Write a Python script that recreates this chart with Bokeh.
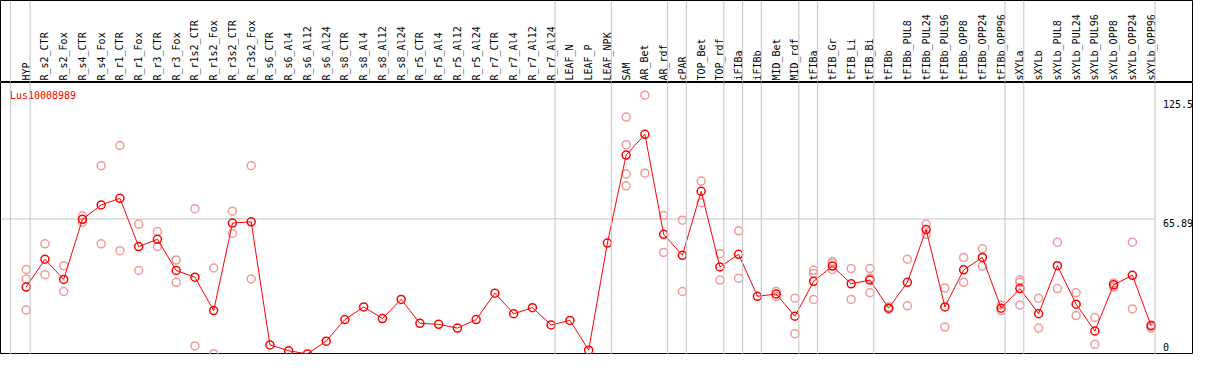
import math
from bokeh.plotting import figure
from bokeh.layouts import column
from bokeh.models import ColumnDataSource, Range1d, Span
from bokeh.embed import file_html
from bokeh.resources import INLINE
from bokeh.core.properties import value

gene = "Lus10008989"

categories = [
    "HYP", "R_s2_CTR", "R_s2_Fox", "R_s4_CTR", "R_s4_Fox", "R_r1_CTR", "R_r1_Fox",
    "R_r3_CTR", "R_r3_Fox", "R_r1s2_CTR", "R_r1s2_Fox", "R_r3s2_CTR", "R_r3s2_Fox",
    "R_s6_CTR", "R_s6_Al4", "R_s6_Al12", "R_s6_Al24", "R_s8_CTR", "R_s8_Al4",
    "R_s8_Al12", "R_s8_Al24", "R_r5_CTR", "R_r5_Al4", "R_r5_Al12", "R_r5_Al24",
    "R_r7_CTR", "R_r7_Al4", "R_r7_Al12", "R_r7_Al24", "LEAF_N", "LEAF_P", "LEAF_NPK",
    "SAM", "AR_Bet", "AR_rdf", "cPAR", "TOP_Bet", "TOP_rdf", "iFIBa", "iFIBb",
    "MID_Bet", "MID_rdf", "tFIBa", "tFIB_Gr", "tFIB_Li", "tFIB_Bi", "tFIBb",
    "tFIBb_PUL8", "tFIBb_PUL24", "tFIBb_PUL96", "tFIBb_OPP8", "tFIBb_OPP24",
    "tFIBb_OPP96", "sXYLa", "sXYLb", "sXYLb_PUL8", "sXYLb_PUL24", "sXYLb_PUL96",
    "sXYLb_OPP8", "sXYLb_OPP24", "sXYLb_OPP96",
]

means = [
    33.1, 46.5, 36.8, 65.7, 72.6, 75.8, 52.6, 56.1, 41.1, 37.9, 21.8, 63.9, 64.5,
    5.3, 2.5, 1.0, 7.1, 17.5, 23.6, 18.0, 27.2, 15.7, 15.2, 13.4, 17.5,
    30.2, 20.3, 23.2, 14.9, 17.1, 2.8, 54.3,
    96.6, 106.6, 58.5, 48.4, 79.2, 42.8, 48.9, 28.7, 29.8, 19.1,
    35.9, 43.2, 34.7, 36.5, 23.0, 35.4, 60.8, 23.6, 41.4, 47.4, 23.0,
    32.4, 20.3, 43.4, 24.9, 12.0, 34.2, 38.8, 14.5,
]

rep_categories = [
    "HYP", "HYP", "HYP", "R_s2_CTR", "R_s2_CTR", "R_s2_Fox", "R_s2_Fox",
    "R_s4_CTR", "R_s4_CTR", "R_s4_Fox", "R_s4_Fox", "R_r1_CTR", "R_r1_CTR",
    "R_r1_Fox", "R_r1_Fox", "R_r3_CTR", "R_r3_CTR", "R_r3_Fox", "R_r3_Fox",
    "R_r1s2_CTR", "R_r1s2_CTR", "R_r1s2_Fox", "R_r1s2_Fox", "R_r3s2_CTR", "R_r3s2_CTR",
    "R_r3s2_Fox", "R_r3s2_Fox",
    "SAM", "SAM", "SAM", "SAM", "AR_Bet", "AR_Bet", "AR_rdf", "AR_rdf",
    "cPAR", "cPAR", "TOP_Bet", "TOP_Bet", "TOP_rdf", "TOP_rdf", "iFIBa", "iFIBa",
    "MID_Bet", "MID_Bet", "MID_rdf", "MID_rdf",
    "tFIBa", "tFIBa", "tFIBa", "tFIB_Gr", "tFIB_Gr", "tFIB_Gr", "tFIB_Li", "tFIB_Li",
    "tFIB_Bi", "tFIB_Bi", "tFIB_Bi", "tFIBb", "tFIBb", "tFIBb_PUL8", "tFIBb_PUL8",
    "tFIBb_PUL24", "tFIBb_PUL24", "tFIBb_PUL96", "tFIBb_PUL96", "tFIBb_OPP8", "tFIBb_OPP8",
    "tFIBb_OPP24", "tFIBb_OPP24", "tFIBb_OPP96", "tFIBb_OPP96",
    "sXYLa", "sXYLa", "sXYLa", "sXYLb", "sXYLb", "sXYLb_PUL8", "sXYLb_PUL8",
    "sXYLb_PUL24", "sXYLb_PUL24", "sXYLb_PUL96", "sXYLb_PUL96", "sXYLb_OPP8", "sXYLb_OPP8",
    "sXYLb_OPP24", "sXYLb_OPP24", "sXYLb_OPP96", "sXYLb_OPP96",
]
rep_values = [
    41.6, 37.0, 22.1, 53.9, 39.1, 43.4, 31.0,
    67.4, 64.2, 91.5, 53.9, 101.2, 50.6,
    63.4, 41.1, 59.9, 52.6, 46.1, 35.4,
    70.8, 4.8, 42.3, 1.1, 69.6, 58.9,
    91.5, 37.0,
    114.9, 101.6, 87.5, 81.8, 125.4, 87.9, 67.6, 49.8,
    65.3, 31.0, 84.1, 73.7, 49.2, 36.5, 60.2, 37.4,
    31.0, 28.6, 27.8, 10.7,
    41.2, 39.7, 27.2, 45.4, 44.6, 41.6, 42.0, 27.2,
    42.0, 37.4, 30.4, 23.5, 22.5, 46.5, 24.1,
    63.4, 58.5, 32.7, 13.9, 47.4, 35.4,
    51.5, 43.2, 24.4, 21.8,
    36.5, 35.4, 24.4, 27.8, 13.4, 54.7, 32.4,
    30.4, 19.4, 18.5, 5.6, 35.1, 33.1,
    54.7, 22.6, 14.9, 13.4,
]

# groups: a separator is drawn after each of these categories (plus one before the first)
group_ends = ["HYP", "R_r7_Al24", "LEAF_NPK", "AR_rdf", "cPAR", "TOP_rdf", "iFIBa",
              "iFIBb", "MID_rdf", "tFIBa", "tFIB_Bi", "tFIBb_OPP96", "sXYLa", "sXYLb_OPP96"]

tick_values = [0, 65.89, 125.5]
tick_labels = ["0", "65.89", "125.5"]

# ---------------- layout / styling ----------------
W = 1193
H_TOP = 82
H_BOT = 272
FONT = value("DejaVu Sans Mono")
FS = "10px"
GRID = "#c4c4c4"
MEAN_COLOR = "#ff0000"
REP_COLOR = "#f09a9a"

idx = {c: i for i, c in enumerate(categories)}
xs = list(range(len(categories)))
rep_x = [idx[c] for c in rep_categories]
SEP_OFF = 0.21
sep_x = [-1 + SEP_OFF - 0.05] + [idx[c] + SEP_OFF for c in group_ends]

xr = Range1d(-1.37, len(categories) + 1.26)
yr = Range1d(0.7, 131.5)


def base(height, y_range):
    p = figure(width=W, height=height, x_range=xr, y_range=y_range,
               output_backend="svg", toolbar_location=None, min_border=0,
               x_axis_type=None, y_axis_type=None)
    p.grid.visible = False
    p.outline_line_color = "black"
    p.outline_line_width = 1
    p.background_fill_color = "white"
    p.border_fill_color = "white"
    for sx in sep_x:
        p.add_layout(Span(location=sx, dimension="height", line_color=GRID, line_width=1))
    return p


# top: category labels
top = base(H_TOP, Range1d(0, 1))
lab_src = ColumnDataSource(dict(x=xs, y=[0] * len(xs), t=categories))
top.text(x="x", y="y", text="t", source=lab_src, angle=math.pi / 2,
         text_align="left", text_baseline="middle", y_offset=-2,
         text_font=FONT, text_font_size=FS, text_color="black")

# bottom: data
bot = base(H_BOT, yr)
bot.segment(x0=[xr.start], y0=[tick_values[1]], x1=[sep_x[-1]], y1=[tick_values[1]],
            line_color=GRID, line_width=1)

rep_src = ColumnDataSource(dict(x=rep_x, y=rep_values))
bot.scatter(x="x", y="y", source=rep_src, marker="circle", size=8,
            fill_color=None, line_color=REP_COLOR, line_width=1.5)

mean_src = ColumnDataSource(dict(x=xs, y=means))
bot.line(x="x", y="y", source=mean_src, line_color=MEAN_COLOR, line_width=1)
bot.scatter(x="x", y="y", source=mean_src, marker="circle", size=8,
            fill_color=None, line_color=MEAN_COLOR, line_width=1.5)

# value labels at right
tick_offsets = [-9, 4, 9]
tick_src = ColumnDataSource(dict(x=[xs[-1] + 0.63] * 3, y=tick_values, t=tick_labels,
                                 off=tick_offsets))
bot.text(x="x", y="y", text="t", source=tick_src, y_offset="off",
         text_align="left", text_baseline="middle",
         text_font=FONT, text_font_size=FS, text_color="black")

# gene title
bot.text(x=[xr.start + 0.5], y=[yr.end], text=[gene], text_align="left",
         text_baseline="top", y_offset=7, text_font=FONT, text_font_size=FS,
         text_color=MEAN_COLOR)

layout = column(top, bot, spacing=0)
open("out.html", "w").write(file_html(layout, INLINE))
